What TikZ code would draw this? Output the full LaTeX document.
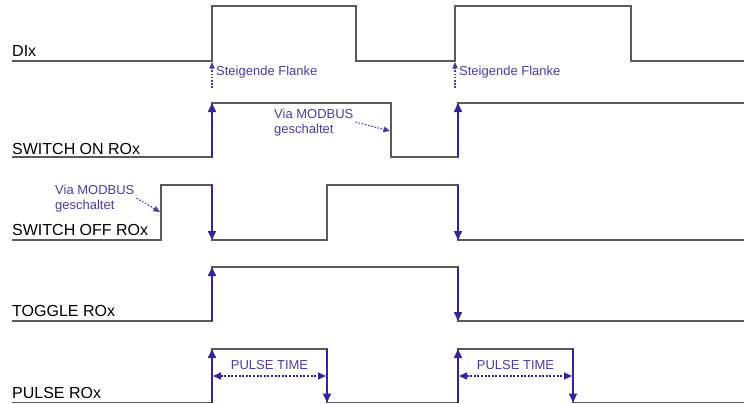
\documentclass[tikz,border=0pt]{standalone}
\usepackage{fontspec}
\setmainfont{Liberation Sans}
\usetikzlibrary{arrows.meta}
\definecolor{sigline}{HTML}{5A5A5A}
\definecolor{sigblue}{HTML}{33269A}
\definecolor{noteblue}{HTML}{4A3CA6}

\begin{document}
\begin{tikzpicture}[
  x=1pt, y=-1pt,
  sig/.style={draw=sigline, line width=1.1pt},
  edgearr/.style={-{Triangle[length=9pt,width=8pt]}, line width=1.6pt, sigblue},
  notearr/.style={-{Triangle[length=6.5pt,width=5.5pt]}, line width=1.1pt, noteblue, dash pattern=on 1.6pt off 1.6pt},
  spanarr/.style={{Triangle[length=8pt,width=7pt]}-{Triangle[length=8pt,width=7pt]}, line width=1.4pt, sigblue, dash pattern=on 2pt off 1.6pt},
  signame/.style={anchor=base west, inner sep=0pt, font=\fontsize{16}{18}\selectfont},
  hint/.style={anchor=base west, inner sep=0pt, text=noteblue, align=left, font=\fontsize{13}{15}\selectfont},
]
\useasboundingbox (0,0) rectangle (744,404);

% signal names
\node[signame] (dix) at (12,57) {DIx};
\node[signame] (swon) at (12,154) {SWITCH ON ROx};
\node[signame] (swoff) at (12,235) {SWITCH OFF ROx};
\node[signame] (tog) at (12,316) {TOGGLE ROx};
\node[signame] (pulse) at (12,398) {PULSE ROx};

% waveforms
\draw[sig] (12,61) -- (212,61) -- (212,6) -- (356,6) -- (356,61) -- (455,61) -- (455,6) -- (631,6) -- (631,61) -- (744,61);
\draw[sig] (12,157) -- (212,157) -- (212,103) -- (391,103) -- (391,157) -- (458,157) -- (458,103) -- (744,103);
\draw[sig] (12,240) -- (161,240) -- (161,185) -- (212,185) -- (212,240) -- (327,240) -- (327,185) -- (458,185) -- (458,240) -- (744,240);
\draw[sig] (12,321) -- (212,321) -- (212,267) -- (458,267) -- (458,321) -- (744,321);
\draw[sig] (12,402.5) -- (212,402.5) -- (212,349) -- (327,349) -- (327,402.5) -- (458,402.5) -- (458,349) -- (573,349) -- (573,402.5) -- (744,402.5);

% switching edges
\draw[edgearr] (212,157) -- (212,103);
\draw[edgearr] (458,157) -- (458,103);
\draw[edgearr] (212,185) -- (212,240);
\draw[edgearr] (458,185) -- (458,240);
\draw[edgearr] (212,321) -- (212,267);
\draw[edgearr] (458,267) -- (458,321);
\draw[edgearr] (212,402.5) -- (212,349);
\draw[edgearr] (327,349) -- (327,402.5);
\draw[edgearr] (458,402.5) -- (458,349);
\draw[edgearr] (573,349) -- (573,402.5);

% rising edge hints
\coordinate (rise1) at (212,62);
\coordinate (rise1b) at (212,88);
\coordinate (rise2) at (455,62);
\coordinate (rise2b) at (455,88);
\node[hint] (flanke1) at (216,76) {Steigende Flanke};
\node[hint] (flanke2) at (459,76) {Steigende Flanke};
\draw[notearr] (rise1b) -- (rise1);
\draw[notearr] (rise2b) -- (rise2);

% modbus hints
\coordinate (onfall) at (390,131);
\coordinate (offrise) at (160,212);
\node[hint] (viaon) at (274,133) {Via MODBUS\\geschaltet};
\node[hint] (viaoff) at (55,209) {Via MODBUS\\geschaltet};
\draw[notearr] ([xshift=2pt]viaon.east) -- (onfall);
\draw[notearr] ([xshift=2pt]viaoff.east) -- (offrise);

% pulse time
\coordinate (pt1a) at (213,376);
\coordinate (pt1b) at (326,376);
\coordinate (pt2a) at (459,376);
\coordinate (pt2b) at (572,376);
\draw[spanarr] (pt1a) -- (pt1b) node[midway, above=2pt, text=noteblue, font=\fontsize{13}{15}\selectfont] (ptime1) {PULSE TIME};
\draw[spanarr] (pt2a) -- (pt2b) node[midway, above=2pt, text=noteblue, font=\fontsize{13}{15}\selectfont] (ptime2) {PULSE TIME};
\end{tikzpicture}
\end{document}
